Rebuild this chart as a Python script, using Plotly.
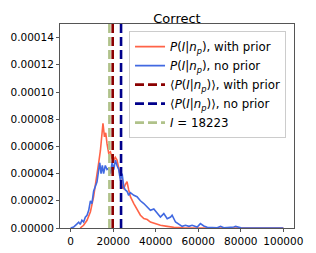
import plotly.graph_objects as go

# Curve with prior (red)
x_prior = [4500, 6100, 7700, 9300, 10800, 12400, 13200, 14000, 14800, 15200, 15900, 16500, 17100, 17900,
           18700, 19500, 20300, 21000, 21800, 22600, 23400, 24200, 25000, 25700, 26500, 27300, 28100,
           29700, 31200, 32800, 34400, 36000, 37500, 39100, 40700, 42200, 45400, 48500, 53000, 61000, 100000]
y_prior = [0, 2e-6, 5.7e-6, 1.2e-5, 2.3e-5, 3.8e-5, 4.8e-5, 5.7e-5, 7.2e-5, 7.7e-5, 6.7e-5, 7.0e-5, 6.2e-5, 5.5e-5,
           5.6e-5, 5.1e-5, 5.0e-5, 5.2e-5, 5.0e-5, 4.5e-5, 3.8e-5, 3.0e-5, 2.9e-5, 3.2e-5, 3.4e-5, 2.8e-5, 2.3e-5,
           1.8e-5, 1.4e-5, 9.4e-6, 6.9e-6, 6.2e-6, 4.4e-6, 3.7e-6, 2.7e-6, 2.0e-6, 1.2e-6, 5e-7, 2e-7, 0, 0]

# Curve without prior (blue)
x_noprior = [0, 1400, 3000, 3800, 4500, 5300, 6100, 6900, 7700, 8500, 9300, 10000, 10800, 11600, 12400, 13200,
             13700, 14300, 14900, 15500, 16300, 17100, 17900, 18700, 19500, 20300, 21000, 21800, 22600, 23400,
             24200, 25000, 25700, 26500, 27300, 28100, 29700, 31200, 32800, 34400, 36000, 37500, 39100, 40700,
             42200, 43800, 45400, 47000, 47700, 49300, 50900, 52400, 54000, 55600, 57100, 59500, 61000, 62600,
             64200, 68900, 70500, 72000, 76700, 77600, 80000, 100000]
y_noprior = [0, 7e-7, 3e-6, 4.3e-6, 2.7e-6, 5.7e-6, 4.4e-6, 8e-6, 9.4e-6, 1.3e-5, 2.0e-5, 1.8e-5, 2.7e-5, 3.0e-5,
             3.4e-5, 4.3e-5, 4.8e-5, 4.0e-5, 4.6e-5, 4.0e-5, 4.6e-5, 4.3e-5, 4.4e-5, 4.0e-5, 4.8e-5, 4.3e-5,
             5.0e-5, 4.6e-5, 4.3e-5, 3.5e-5, 4.0e-5, 3.0e-5, 2.8e-5, 2.7e-5, 2.4e-5, 2.6e-5, 2.4e-5, 2.3e-5,
             2.0e-5, 1.8e-5, 1.55e-5, 1.3e-5, 1.4e-5, 1.06e-5, 8.1e-6, 1.06e-5, 6.9e-6, 8.1e-6, 9.4e-6, 4.4e-6,
             2.7e-6, 1.2e-6, 2.0e-6, 1.2e-6, 2.0e-6, 7e-7, 3.2e-6, 1.5e-6, 5e-7, 2e-7, 1.2e-6, 2e-7, 7e-7,
             1.2e-6, 2e-7, 0]

mean_prior = 19770
mean_noprior = 23700
true_I = 18223

y_top = 0.00015
x_range = [-5000, 105000]
y_ticks = [0, 0.00002, 0.00004, 0.00006, 0.00008, 0.00010, 0.00012, 0.00014]
y_tick_text = ["0.00000", "0.00002", "0.00004", "0.00006", "0.00008", "0.00010", "0.00012", "0.00014"]
x_ticks = [0, 20000, 40000, 60000, 80000, 100000]
x_tick_text = ["0", "20000", "40000", "60000", "80000", "100000"]

P = "<i>P</i>(<i>I</i>|<i>n</i><sub><i>p</i></sub>)"

fig = go.Figure()
fig.add_trace(go.Scatter(x=x_prior, y=y_prior, mode="lines", line=dict(color="#FF6347", width=1.6),
                         name=P + ", with prior"))
fig.add_trace(go.Scatter(x=x_noprior, y=y_noprior, mode="lines", line=dict(color="#4169E1", width=1.6),
                         name=P + ", no prior"))
fig.add_trace(go.Scatter(x=[true_I, true_I], y=[0, y_top], mode="lines",
                         line=dict(color="#b0c28a", width=2.6, dash="9px,4px"),
                         name="<i>I</i> = 18223", legendrank=1005))
fig.add_trace(go.Scatter(x=[mean_prior, mean_prior], y=[0, y_top], mode="lines",
                         line=dict(color="#8B0000", width=2.6, dash="9px,4px"),
                         name="⟨" + P + "⟩, with prior", legendrank=1003))
fig.add_trace(go.Scatter(x=[mean_noprior, mean_noprior], y=[0, y_top], mode="lines",
                         line=dict(color="#00008B", width=2.6, dash="9px,4px"),
                         name="⟨" + P + "⟩, no prior", legendrank=1004))

fig.update_layout(
    width=316, height=253,
    margin=dict(l=52, r=30, t=16, b=33),
    paper_bgcolor="white", plot_bgcolor="white",
    font=dict(family="DejaVu Sans", size=10.5, color="black"),
    title=dict(text="Correct", x=0.5, xref="paper", xanchor="center", y=1, yref="paper", yanchor="bottom",
               pad=dict(b=1), font=dict(size=13)),
    showlegend=True,
    legend=dict(x=0.295, y=0.965, xanchor="left", yanchor="top", bgcolor="rgba(255,255,255,0.8)",
                bordercolor="#cccccc", borderwidth=1, font=dict(size=11.8), tracegroupgap=0,
                itemwidth=30),
    xaxis=dict(range=x_range, tickvals=x_ticks, ticktext=x_tick_text, showgrid=False, zeroline=False,
               showline=True, linecolor="#555555", linewidth=1, mirror=True, ticks="outside", ticklen=3,
               tickcolor="#555555", automargin=False),
    yaxis=dict(range=[0, y_top], tickvals=y_ticks, ticktext=y_tick_text, showgrid=False, zeroline=False,
               showline=True, linecolor="#555555", linewidth=1, mirror=True, ticks="outside", ticklen=3,
               tickcolor="#555555", automargin=False),
)

fig.write_html("out.html")
